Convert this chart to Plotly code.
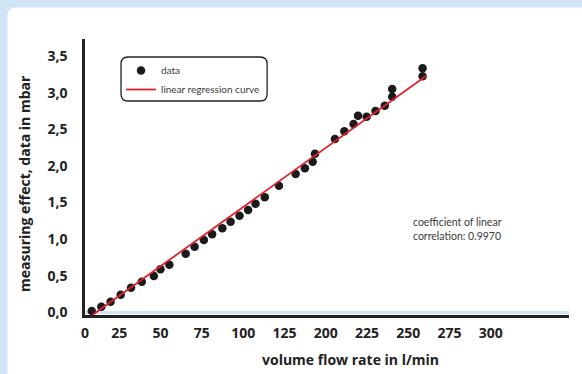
import plotly.graph_objects as go

# ---- data (x in evenly spaced axis units, 25 units per grid step) ----
flow_x = [8.3, 14.1, 19.7, 25.8, 32.1, 38.6, 45.9, 49.9, 55.3, 65.2, 70.6, 76.2,
          81.2, 87.4, 92.4, 97.8, 103.0, 107.5, 113.1, 121.7, 131.8, 137.4, 142.1,
          143.5, 155.6, 161.3, 166.9, 169.6, 174.8, 180.2, 185.8, 190.3, 190.3,
          208.7, 208.7]
effect_y = [0.018, 0.076, 0.145, 0.240, 0.336, 0.418, 0.496, 0.587, 0.650, 0.800,
            0.896, 0.987, 1.065, 1.147, 1.237, 1.319, 1.397, 1.483, 1.570, 1.729,
            1.889, 1.966, 2.057, 2.166, 2.367, 2.472, 2.571, 2.685, 2.671, 2.749,
            2.821, 2.944, 3.049, 3.223, 3.332]
regression_x = [8.7, 211.0]
regression_y = [-0.037, 3.23]

x_tickvals = [4.2, 25, 50, 75, 100, 125, 150, 175, 200, 225, 250, 275]
x_ticktext = ["0", "25", "50", "75", "100", "125", "200", "225", "250", "275", "300", ""]
y_tickvals = [0, 0.5, 1.0, 1.5, 2.0, 2.5, 3.0, 3.5]
y_ticktext = ["0,0", "0,5", "1,0", "1,5", "2,0", "2,5", "3,0", "3,5"]

# ---- layout geometry (pixels) ----
W, H = 582, 374
L, T, R, B = 85, 39, 13.3, 59
PW, PH = W - L - R, H - T - B
BG = "#d0e4f5"
TXT = "#222222"


def px(x):
    return (x - L) / PW


def py(y):
    return (T + PH - y) / PH


def rounded(x0, y0, x1, y1, r):
    pts = [
        f"M{px(x0 + r)},{py(y0)}",
        f"L{px(x1 - r)},{py(y0)}",
        f"Q{px(x1)},{py(y0)} {px(x1)},{py(y0 + r)}",
        f"L{px(x1)},{py(y1 - r)}",
        f"Q{px(x1)},{py(y1)} {px(x1 - r)},{py(y1)}",
        f"L{px(x0 + r)},{py(y1)}",
        f"Q{px(x0)},{py(y1)} {px(x0)},{py(y1 - r)}",
        f"L{px(x0)},{py(y0 + r)}",
        f"Q{px(x0)},{py(y0)} {px(x0 + r)},{py(y0)}",
        "Z",
    ]
    return " ".join(pts)


fig = go.Figure()
fig.add_trace(go.Scatter(
    x=flow_x, y=effect_y, mode="markers", name="data",
    marker=dict(size=8.5, color="#1b1b1b"),
))
fig.add_trace(go.Scatter(
    x=regression_x, y=regression_y, mode="lines", name="linear regression curve",
    line=dict(color="#e3202a", width=1.8),
))

grid = dict(showgrid=True, gridcolor="white", gridwidth=2.2, griddash="3px,2px")

fig.update_layout(
    width=W, height=H,
    margin=dict(l=L, r=R, t=T, b=B),
    paper_bgcolor=BG,
    plot_bgcolor=BG,
    font=dict(family="Lato", color=TXT),
    showlegend=True,
    legend=dict(
        x=px(121), y=py(56), xanchor="left", yanchor="top",
        bgcolor="rgba(0,0,0,0)", borderwidth=0,
        font=dict(family="Lato", size=10, color="#3a3a3a"),
        tracegroupgap=0,
    ),
    xaxis=dict(
        range=[4.2, 297.4],
        tickvals=x_tickvals, ticktext=x_ticktext,
        zeroline=False,
        showline=True, linecolor="#222222", linewidth=2.5,
        ticks="", ticklabelstandoff=3,
        tickfont=dict(family="Open Sans", size=14, color=TXT, weight="bold"),
        **grid,
    ),
    yaxis=dict(
        range=[-0.037, 3.732],
        tickvals=y_tickvals, ticktext=y_ticktext,
        zeroline=True, zerolinecolor=BG, zerolinewidth=2.5,
        showline=True, linecolor="#222222", linewidth=2.5,
        ticks="", ticklabelstandoff=12,
        tickfont=dict(family="Open Sans", size=14, color=TXT, weight="bold"),
        **grid,
    ),
    shapes=[
        dict(type="path", xref="paper", yref="paper", layer="below",
             path=rounded(7.5, 7.5, 640, 430, 9),
             fillcolor="white", line=dict(width=0)),
        dict(type="path", xref="paper", yref="paper", layer="above",
             path=rounded(121, 57, 267, 101, 7),
             fillcolor="rgba(0,0,0,0)", line=dict(color="#222222", width=1.3)),
    ],
    annotations=[
        dict(text="volume flow rate in l/min", xref="paper", yref="paper",
             x=px(350), y=py(359), xanchor="center", yanchor="middle",
             showarrow=False,
             font=dict(family="Open Sans", size=14, color=TXT, weight="bold")),
        dict(text="measuring effect, data in mbar", xref="paper", yref="paper",
             x=px(24), y=py(183), xanchor="center", yanchor="middle",
             textangle=-90, showarrow=False,
             font=dict(family="Open Sans", size=14, color=TXT, weight="bold")),
        dict(text="coefficient of linear<br>correlation: 0.9970",
             xref="paper", yref="paper", x=px(411), y=py(228.5),
             xanchor="left", yanchor="middle", align="left", showarrow=False,
             font=dict(family="Lato", size=10.5, color="#3a3a3a")),
    ],
)

fig.write_html("out.html", config={"displayModeBar": False},
               post_script="document.body.style.margin='0';")
